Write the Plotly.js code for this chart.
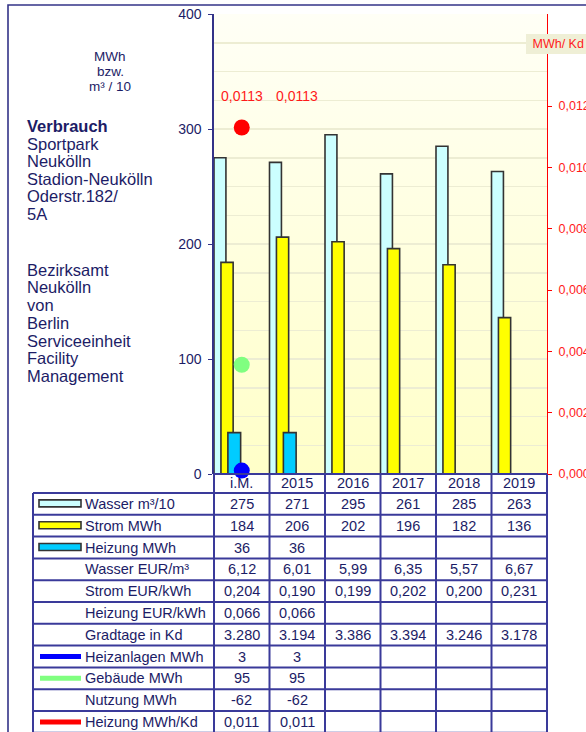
<!DOCTYPE html>
<html>
<head>
<meta charset="utf-8">
<script src="https://cdn.plot.ly/plotly-3.0.1.min.js"></script>
<style>html,body{margin:0;padding:0;background:#fff;}#chart{width:586px;height:732px;}</style>
</head>
<body>
<div id="chart"></div>
<script>
// ---- data ----
const categories = ['i.M.', '2015', '2016', '2017', '2018', '2019'];
const wasser = [275, 271, 295, 261, 285, 263];          // m³/10
const strom = [184, 206, 202, 196, 182, 136];           // MWh
const heizung = [36, 36, null, null, null, null];       // MWh
const wasserEur = [6.12, 6.01, 5.99, 6.35, 5.57, 6.67];
const stromEur = [0.204, 0.190, 0.199, 0.202, 0.200, 0.231];
const heizungEur = [0.066, 0.066, null, null, null, null];
const gradtage = [3280, 3194, 3386, 3394, 3246, 3178];
const heizanlagen = [3, 3, null, null, null, null];
const gebaeude = [95, 95, null, null, null, null];
const nutzung = [-62, -62, null, null, null, null];
const heizungKd = [0.0113, 0.0113, null, null, null, null];
const leftTicks = [0, 100, 200, 300, 400];
const rightTicks = [0, 0.002, 0.004, 0.006, 0.008, 0.010, 0.012];
const rowLabels = ['Wasser m³/10', 'Strom MWh', 'Heizung MWh', 'Wasser EUR/m³', 'Strom EUR/kWh',
  'Heizung EUR/kWh', 'Gradtage in Kd', 'Heizanlagen MWh', 'Gebäude MWh', 'Nutzung MWh', 'Heizung MWh/Kd'];
const leftText1 = ['Sportpark', 'Neukölln', 'Stadion-Neukölln', 'Oderstr.182/', '5A'];
const leftText2 = ['Bezirksamt', 'Neukölln', 'von', 'Berlin', 'Serviceeinheit', 'Facility', 'Management'];
const unitText = ['MWh', 'bzw.', 'm³ / 10'];

// ---- formatting ----
function fmtDec(v, d) { return v == null ? '' : v.toFixed(d).replace('.', ','); }
function fmtThousand(v) { if (v == null) return ''; const s = String(Math.round(v)); return s.replace(/\B(?=(\d{3})+(?!\d))/g, '.'); }
const tableRows = [
  wasser.map(v => fmtDec(v, 0)), strom.map(v => fmtDec(v, 0)), heizung.map(v => fmtDec(v, 0)),
  wasserEur.map(v => fmtDec(v, 2)), stromEur.map(v => fmtDec(v, 3)), heizungEur.map(v => fmtDec(v, 3)),
  gradtage.map(fmtThousand), heizanlagen.map(v => fmtDec(v, 0)), gebaeude.map(v => fmtDec(v, 0)),
  nutzung.map(v => fmtDec(v, 0)), heizungKd.map(v => fmtDec(v, 3))
];

// ---- geometry (pixels) ----
const FW = 586, FH = 732;
const PL = 214, PR = 547, PT = 14, PB = 474;
const px = x => (x - PL) / (PR - PL);
const py = y => (PB - y) / (PB - PT);
const colW = (PR - PL) / categories.length;
const colEdge = k => PL + k * colW;
const tableLeft = 33, headerBottom = 493, rowH = 21.8;
const rowTop = r => headerBottom + r * rowH;

const NAVY = '#333388', TEXT = '#1c1c66', TLINE = '#3a3a9a', RED = '#ff1a1a';
const FONT = 'Liberation Sans, Arial, sans-serif';

// ---- traces ----
const barLine = {color: '#333333', width: 1.6};
const traces = [
  {type: 'bar', x: categories, y: wasser, name: 'Wasser m³/10', offset: -0.5, width: 0.215,
   marker: {color: '#ccffff', line: barLine}, hoverinfo: 'skip'},
  {type: 'bar', x: categories, y: strom, name: 'Strom MWh', offset: -0.375, width: 0.22,
   marker: {color: '#ffff00', line: barLine}, hoverinfo: 'skip'},
  {type: 'bar', x: categories, y: heizung, name: 'Heizung MWh', offset: -0.25, width: 0.23,
   marker: {color: '#00ccff', line: barLine}, hoverinfo: 'skip'},
  {type: 'scatter', mode: 'markers', x: categories.slice(0, 1), y: gebaeude.slice(0, 1),
   marker: {color: '#80ff80', size: 16}, cliponaxis: false, hoverinfo: 'skip'},
  {type: 'scatter', mode: 'markers', x: categories.slice(0, 1), y: heizanlagen.slice(0, 1),
   marker: {color: '#0000ff', size: 16}, cliponaxis: false, hoverinfo: 'skip'},
  {type: 'scatter', mode: 'markers', x: categories.slice(0, 1), y: heizungKd.slice(0, 1), yaxis: 'y2',
   marker: {color: '#ff0000', size: 16}, cliponaxis: false, hoverinfo: 'skip'}
];

// ---- shapes ----
const shapes = [];
// outer frame
shapes.push({type: 'rect', xref: 'paper', yref: 'paper', x0: px(8), x1: px(640), y0: py(5), y1: py(800),
  line: {color: NAVY, width: 1.6}, fillcolor: 'rgba(0,0,0,0)', layer: 'above'});
// table horizontal lines
shapes.push({type: 'line', xref: 'paper', yref: 'paper', x0: px(PL), x1: px(PR), y0: py(PB), y1: py(PB), line: {color: TLINE, width: 2}});
for (let r = 0; r <= rowLabels.length; r++) {
  const y = rowTop(r);
  shapes.push({type: 'line', xref: 'paper', yref: 'paper', x0: px(tableLeft), x1: px(PR), y0: py(y), y1: py(y), line: {color: TLINE, width: 2}});
}
// table vertical lines
const tableBottom = rowTop(rowLabels.length) + 5;
shapes.push({type: 'line', xref: 'paper', yref: 'paper', x0: px(tableLeft), x1: px(tableLeft), y0: py(headerBottom), y1: py(tableBottom), line: {color: TLINE, width: 2}});
for (let k = 0; k <= categories.length; k++) {
  const x = colEdge(k);
  shapes.push({type: 'line', xref: 'paper', yref: 'paper', x0: px(x), x1: px(x), y0: py(PB), y1: py(tableBottom), line: {color: TLINE, width: 2}});
}
// legend swatches in table
const swatchBars = [[0, '#ccffff'], [1, '#ffff00'], [2, '#00ccff']];
swatchBars.forEach(([r, c]) => {
  const cy = rowTop(r) + rowH / 2 - 0.5;
  shapes.push({type: 'rect', xref: 'paper', yref: 'paper', x0: px(39), x1: px(81), y0: py(cy - 3.5), y1: py(cy + 3.5),
    fillcolor: c, line: {color: '#333333', width: 1.6}});
});
const swatchLines = [[7, '#0000ff'], [8, '#80ff80'], [10, '#ff0000']];
swatchLines.forEach(([r, c]) => {
  const cy = rowTop(r) + rowH / 2;
  shapes.push({type: 'line', xref: 'paper', yref: 'paper', x0: px(40), x1: px(81), y0: py(cy), y1: py(cy),
    line: {color: c, width: 5}});
});

// ---- annotations ----
const annotations = [];
const ann = (o) => annotations.push(Object.assign({showarrow: false, xref: 'paper', yref: 'paper', borderpad: 0, borderwidth: 0}, o));
// category header
categories.forEach((c, k) => ann({x: px(colEdge(k) + colW / 2), y: py((PB + headerBottom) / 2), text: c,
  xanchor: 'center', yanchor: 'middle', font: {family: FONT, size: 14.5, color: TEXT}}));
// row labels + values
rowLabels.forEach((lab, r) => {
  const cy = rowTop(r) + rowH / 2;
  ann({x: px(85), y: py(cy), text: lab, xanchor: 'left', yanchor: 'middle', font: {family: FONT, size: 14.5, color: TEXT}});
  tableRows[r].forEach((v, k) => {
    if (v === '') return;
    ann({x: px(colEdge(k) + colW / 2), y: py(cy), text: v, xanchor: 'center', yanchor: 'middle',
      font: {family: FONT, size: 14.5, color: TEXT}});
  });
});
// left texts
ann({x: px(26.5), y: py(126), text: '<b>Verbrauch</b>', xanchor: 'left', yanchor: 'middle', font: {family: FONT, size: 16.5, color: TEXT}});
leftText1.forEach((t, i) => ann({x: px(26.5), y: py(143.6 + i * 17.6), text: t, xanchor: 'left', yanchor: 'middle',
  font: {family: FONT, size: 16.5, color: TEXT}}));
leftText2.forEach((t, i) => ann({x: px(26.5), y: py(269.7 + i * 17.7), text: t, xanchor: 'left', yanchor: 'middle',
  font: {family: FONT, size: 16.5, color: TEXT}}));
unitText.forEach((t, i) => ann({x: px(110), y: py(56 + i * 15.5), text: t, xanchor: 'center', yanchor: 'middle',
  font: {family: FONT, size: 13.5, color: TEXT}}));
// right axis unit label
ann({x: px(526), y: py(43.5), text: '&nbsp;MWh/ Kd&nbsp;&nbsp;&nbsp;&nbsp;', xanchor: 'left', yanchor: 'middle', bgcolor: '#efefd6',
  borderpad: 3, font: {family: FONT, size: 12.5, color: RED}});
// value labels for Heizung MWh/Kd
heizungKd.forEach((v, k) => {
  if (v == null) return;
  annotations.push({xref: 'x', yref: 'y2', x: k, y: v, yshift: 31, showarrow: false,
    text: fmtDec(v, 4), xanchor: 'center', yanchor: 'middle', font: {family: FONT, size: 14, color: RED}});
});

// ---- background gradient ----
const grad = 'data:image/svg+xml;utf8,' + encodeURIComponent(
  '<svg xmlns="http://www.w3.org/2000/svg" width="10" height="100" preserveAspectRatio="none">' +
  '<defs><linearGradient id="g" x1="0" y1="0" x2="0" y2="1"><stop offset="0" stop-color="#fffff6"/>' +
  '<stop offset="1" stop-color="#ffffc8"/></linearGradient></defs><rect width="10" height="100" fill="url(#g)"/></svg>');

const layout = {
  width: FW, height: FH,
  margin: {l: PL, r: FW - PR, t: PT, b: FH - PB, pad: 0},
  paper_bgcolor: '#ffffff', plot_bgcolor: 'rgba(0,0,0,0)',
  separators: ',.',
  showlegend: false,
  barmode: 'overlay',
  font: {family: FONT, color: TEXT},
  images: [{source: grad, xref: 'paper', yref: 'paper', x: 0, y: 1, sizex: 1, sizey: 1,
    sizing: 'stretch', xanchor: 'left', yanchor: 'top', layer: 'below'}],
  xaxis: {type: 'category', range: [-0.5, 5.5], showticklabels: false, ticks: '', showgrid: false,
    zeroline: false, showline: false, fixedrange: true},
  yaxis: {range: [0, 400], tickvals: leftTicks, ticks: 'outside', ticklen: 4, tickcolor: NAVY, tickwidth: 1,
    showline: true, linecolor: NAVY, linewidth: 1.6, showgrid: true, gridcolor: '#ededd3', gridwidth: 1.5,
    minor: {tickmode: 'linear', tick0: 0, dtick: 25, showgrid: true, gridcolor: '#ededd3', gridwidth: 1.5, ticks: ''},
    zeroline: false, tickfont: {family: FONT, size: 14, color: TEXT}, ticklabelstandoff: 4, fixedrange: true},
  yaxis2: {overlaying: 'y', side: 'right', range: [0, 0.015], tickvals: rightTicks, tickformat: '.3f',
    ticks: 'outside', ticklen: 4, tickcolor: '#ff0000', showline: true, linecolor: '#ff0000', linewidth: 1,
    showgrid: false, zeroline: false, tickfont: {family: FONT, size: 12.5, color: RED}, ticklabelstandoff: 4, fixedrange: true},
  shapes: shapes,
  annotations: annotations
};

Plotly.newPlot('chart', traces, layout, {staticPlot: true, displayModeBar: false});
</script>
</body>
</html>
